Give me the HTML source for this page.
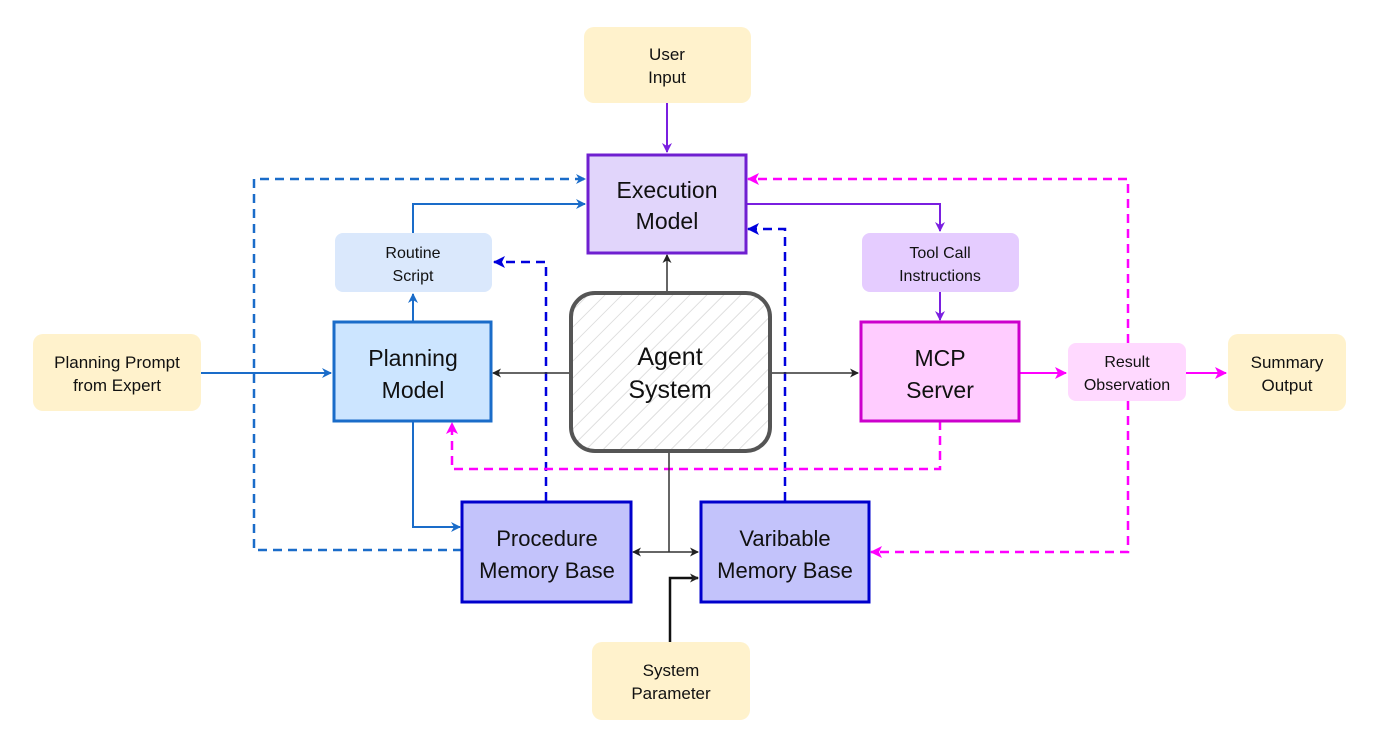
<!DOCTYPE html>
<html><head><meta charset="utf-8"><style>
html,body{margin:0;padding:0;background:#fff;}
svg{display:block}
text{font-family:"Liberation Sans",sans-serif;fill:#111;text-anchor:middle}
</style></head><body>
<svg width="1377" height="753" viewBox="0 0 1377 753" xmlns="http://www.w3.org/2000/svg">
<defs>
<pattern id="hatch" width="12" height="12" patternUnits="userSpaceOnUse" patternTransform="rotate(45)">
<rect width="12" height="12" fill="#fff"/><line x1="0" y1="0" x2="0" y2="12" stroke="#cfcfcf" stroke-width="1.3"/></pattern>
<marker id="ab" markerWidth="10" markerHeight="10" refX="9" refY="5" orient="auto" markerUnits="userSpaceOnUse"><path d="M0,0 L10,5 L0,10 L3,5 z" fill="#1a6cc9"/></marker>
<marker id="ad" markerWidth="12" markerHeight="12" refX="11" refY="6" orient="auto" markerUnits="userSpaceOnUse"><path d="M0,0 L12,6 L0,12 L3,6 z" fill="#0000dd"/></marker>
<marker id="ap" markerWidth="10" markerHeight="10" refX="9" refY="5" orient="auto" markerUnits="userSpaceOnUse"><path d="M0,0 L10,5 L0,10 L3,5 z" fill="#7a1fe0"/></marker>
<marker id="am" markerWidth="12" markerHeight="12" refX="11" refY="6" orient="auto" markerUnits="userSpaceOnUse"><path d="M0,0 L12,6 L0,12 L3,6 z" fill="#ff00ff"/></marker>
<marker id="ak" markerWidth="9" markerHeight="9" refX="8" refY="4.5" orient="auto" markerUnits="userSpaceOnUse"><path d="M0,0 L9,4.5 L0,9 L2.5,4.5 z" fill="#222"/></marker>
</defs>

<!-- connectors -->
<g fill="none" stroke-width="2">
<line x1="667" y1="103" x2="667" y2="152" stroke="#7a1fe0" marker-end="url(#ap)"/>
<polyline points="462,550 254,550 254,179 585,179" stroke="#1a6cc9" stroke-width="2.5" stroke-dasharray="9,6" marker-end="url(#ab)"/>
<polyline points="413,233 413,204 585,204" stroke="#1a6cc9" marker-end="url(#ab)"/>
<line x1="413" y1="322" x2="413" y2="294" stroke="#1a6cc9" marker-end="url(#ab)"/>
<polyline points="546,501 546,262 494,262" stroke="#0000dd" stroke-width="2.5" stroke-dasharray="9,6" marker-end="url(#ad)"/>
<polyline points="785,501 785,229 748,229" stroke="#0000dd" stroke-width="2.5" stroke-dasharray="9,6" marker-end="url(#ad)"/>
<polyline points="746,204 940,204 940,231" stroke="#7a1fe0" marker-end="url(#ap)"/>
<line x1="940" y1="292" x2="940" y2="320" stroke="#7a1fe0" marker-end="url(#ap)"/>
<line x1="201" y1="373" x2="331" y2="373" stroke="#1a6cc9" marker-end="url(#ab)"/>
<polyline points="413,421 413,527 460,527" stroke="#1a6cc9" marker-end="url(#ab)"/>
<polyline points="940,421 940,469 452,469 452,423" stroke="#ff00ff" stroke-width="2.5" stroke-dasharray="9,6" marker-end="url(#am)"/>
<polyline points="1128,343 1128,179 748,179" stroke="#ff00ff" stroke-width="2.5" stroke-dasharray="9,6" marker-end="url(#am)"/>
<polyline points="1128,401 1128,552 871,552" stroke="#ff00ff" stroke-width="2.5" stroke-dasharray="9,6" marker-end="url(#am)"/>
<line x1="1019" y1="373" x2="1066" y2="373" stroke="#ff00ff" marker-end="url(#am)"/>
<line x1="1186" y1="373" x2="1226" y2="373" stroke="#ff00ff" marker-end="url(#am)"/>
<g stroke="#333" stroke-width="1.5">
<line x1="667" y1="292" x2="667" y2="255" marker-end="url(#ak)"/>
<line x1="570" y1="373" x2="493" y2="373" marker-end="url(#ak)"/>
<line x1="771" y1="373" x2="858" y2="373" marker-end="url(#ak)"/>
<line x1="669" y1="451" x2="669" y2="552"/>
<line x1="669" y1="552" x2="633" y2="552" marker-end="url(#ak)"/>
<line x1="669" y1="552" x2="698" y2="552" marker-end="url(#ak)"/>
</g>
<polyline points="670,642 670,578 698,578" stroke="#111" stroke-width="2.5" marker-end="url(#ak)"/>
</g>

<!-- nodes -->
<rect x="584" y="27" width="167" height="76" rx="10" fill="#fff2cc"/>
<text x="667" y="60" font-size="17">User</text><text x="667" y="83" font-size="17">Input</text>

<rect x="588" y="155" width="158" height="98" fill="#e1d5fb" stroke="#6f1fd0" stroke-width="3"/>
<text x="667" y="198" font-size="23">Execution</text><text x="667" y="229" font-size="23">Model</text>

<rect x="335" y="233" width="157" height="59" rx="8" fill="#dae8fc"/>
<text x="413" y="258" font-size="16">Routine</text><text x="413" y="281" font-size="16">Script</text>

<rect x="334" y="322" width="157" height="99" fill="#cce5ff" stroke="#1a6cc9" stroke-width="3"/>
<text x="413" y="366" font-size="23">Planning</text><text x="413" y="398" font-size="23">Model</text>

<rect x="571" y="293" width="199" height="158" rx="24" fill="url(#hatch)" stroke="#555" stroke-width="4"/>
<text x="670" y="365" font-size="25">Agent</text><text x="670" y="398" font-size="25">System</text>

<rect x="862" y="233" width="157" height="59" rx="8" fill="#e5ccff"/>
<text x="940" y="258" font-size="16">Tool Call</text><text x="940" y="281" font-size="16">Instructions</text>

<rect x="861" y="322" width="158" height="99" fill="#ffccff" stroke="#cc00cc" stroke-width="3"/>
<text x="940" y="366" font-size="23">MCP</text><text x="940" y="398" font-size="23">Server</text>

<rect x="1068" y="343" width="118" height="58" rx="8" fill="#ffd9ff"/>
<text x="1127" y="367" font-size="16">Result</text><text x="1127" y="390" font-size="16">Observation</text>

<rect x="1228" y="334" width="118" height="77" rx="10" fill="#fff2cc"/>
<text x="1287" y="368" font-size="17">Summary</text><text x="1287" y="391" font-size="17">Output</text>

<rect x="33" y="334" width="168" height="77" rx="10" fill="#fff2cc"/>
<text x="117" y="368" font-size="17">Planning Prompt</text><text x="117" y="391" font-size="17">from Expert</text>

<rect x="462" y="502" width="169" height="100" fill="#c3c3fb" stroke="#0000cc" stroke-width="3"/>
<text x="547" y="546" font-size="22">Procedure</text><text x="547" y="578" font-size="22">Memory Base</text>

<rect x="701" y="502" width="168" height="100" fill="#c3c3fb" stroke="#0000cc" stroke-width="3"/>
<text x="785" y="546" font-size="22">Varibable</text><text x="785" y="578" font-size="22">Memory Base</text>

<rect x="592" y="642" width="158" height="78" rx="10" fill="#fff2cc"/>
<text x="671" y="676" font-size="17">System</text><text x="671" y="699" font-size="17">Parameter</text>
</svg>
</body></html>
